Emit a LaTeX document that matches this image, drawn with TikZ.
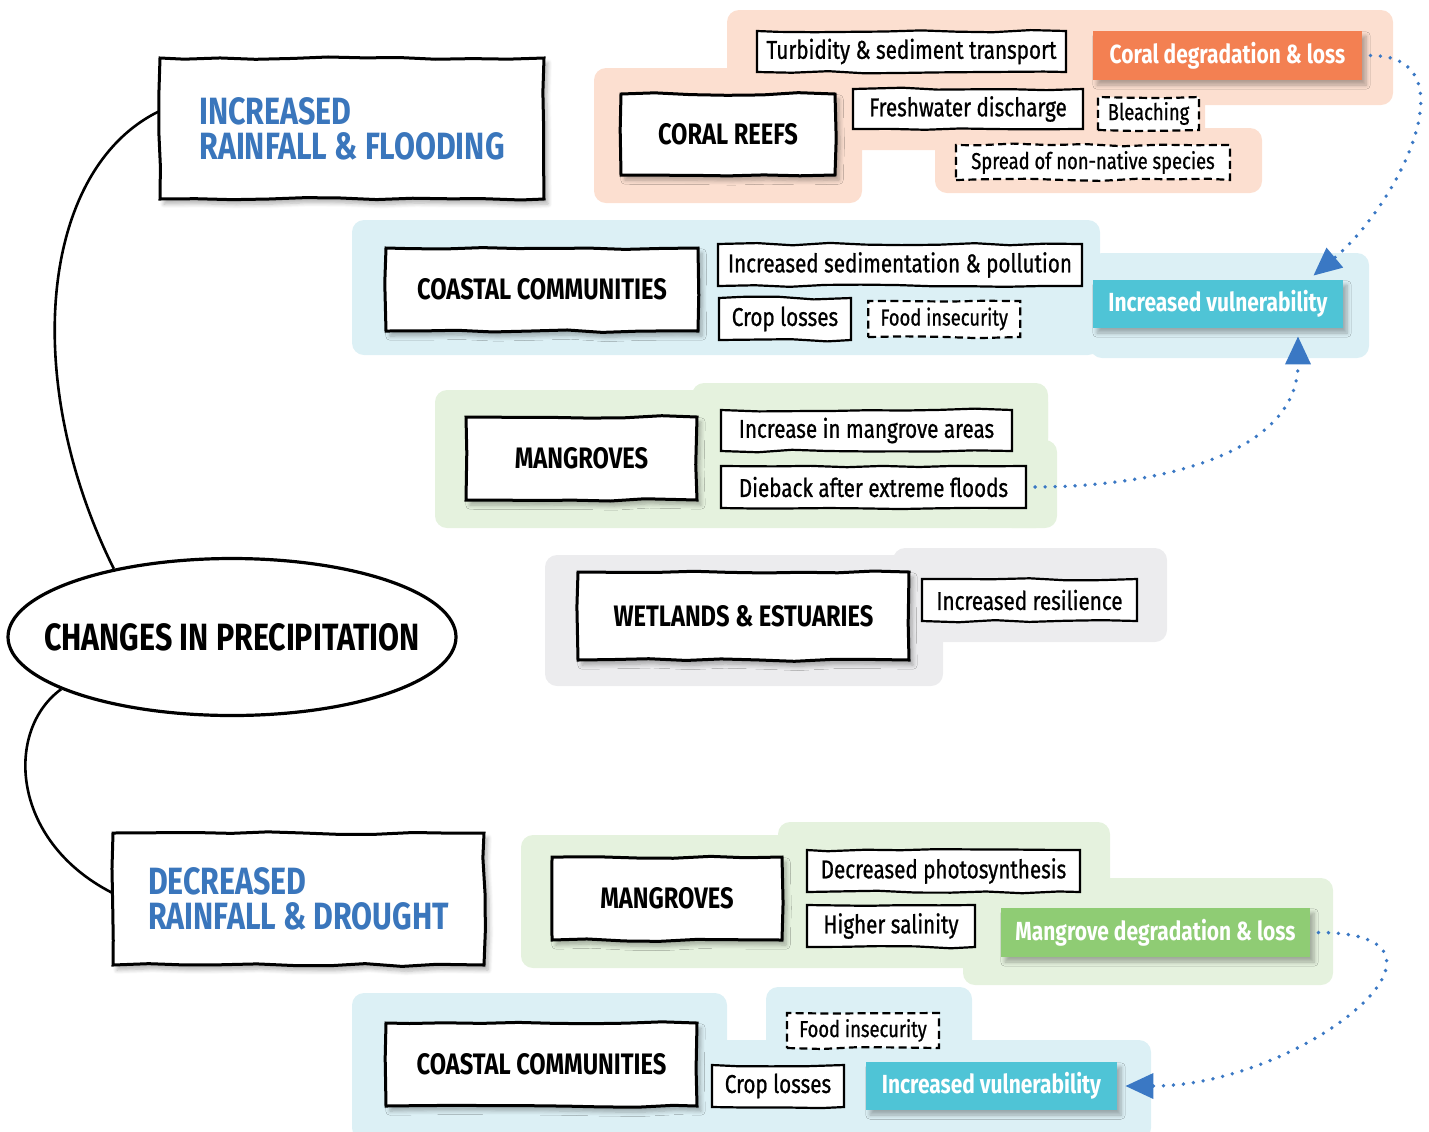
\documentclass[tikz,border=0pt]{standalone}
\usepackage{fontspec}
\setmainfont{Fira Sans}[FakeStretch=0.8]
\newfontfamily\itemfont{Fira Sans}[FakeStretch=0.8, FakeBold=0.8]
\usetikzlibrary{shapes.geometric, arrows.meta, positioning, shadows.blur, decorations.pathmorphing}
\definecolor{headblue}{RGB}{58,118,188}
\definecolor{peachbg}{RGB}{252,223,208}
\definecolor{seabg}{RGB}{220,240,245}
\definecolor{leafbg}{RGB}{229,242,222}
\definecolor{greybg}{RGB}{236,236,238}
\definecolor{coralfill}{RGB}{243,128,82}
\definecolor{tealfill}{RGB}{79,196,214}
\definecolor{mangfill}{RGB}{143,204,116}
\definecolor{arrowblue}{RGB}{58,120,196}
\tikzset{
    sketch/.style={decorate, decoration={random steps, segment length=18pt, amplitude=0.7pt}},
    softshadow/.style={blur shadow={shadow xshift=2pt, shadow yshift=-2.5pt, shadow blur steps=6, shadow opacity=30}},
    frame/.style={rectangle, draw, line width=1.5pt, fill=white, inner sep=0pt, sketch, softshadow, font=\bfseries\fontsize{14.8}{16}\selectfont},
    blueframe/.style={frame, text=headblue, align=left, font=\bfseries\fontsize{19}{17.5}\selectfont},
    item/.style={rectangle, draw, line width=1.1pt, fill=white, inner sep=0pt, sketch, font=\itemfont\fontsize{12.9}{14}\selectfont},
    dashitem/.style={item, dash pattern=on 4pt off 2.2pt, font=\itemfont\fontsize{11.5}{13}\selectfont},
    outcome/.style={rectangle, inner sep=0pt, text=white, softshadow, font=\bfseries\fontsize{13.1}{15}\selectfont},
    link/.style={line width=1.3pt},
    flow/.style={arrowblue, line width=1.9pt, line cap=round, dash pattern=on 0pt off 5pt, shorten <=4pt, -{Triangle[length=14pt, width=12.5pt]}}
}
\begin{document}
\begin{tikzpicture}[x=0.5pt, y=-0.5pt]
    \pgfmathsetseed{7}
    \useasboundingbox (0,0) rectangle (1429,1131);

    % Background panels
    \begin{scope}[rounded corners=6pt]
        \fill[peachbg] (727,10) rectangle (1393,105);
        \fill[peachbg] (594,68) rectangle (862,203);
        \fill[peachbg] (850,90) rectangle (1205,150);
        \fill[peachbg] (935,128) rectangle (1262,193);
        \fill[seabg] (352,220) rectangle (1100,355);
        \fill[seabg] (1090,253) rectangle (1369,358);
        \fill[leafbg] (435,390) rectangle (1048,528);
        \fill[leafbg] (692,383) rectangle (1048,450);
        \fill[leafbg] (1000,440) rectangle (1057,528);
        \fill[greybg] (545,555) rectangle (943,686);
        \fill[greybg] (893,548) rectangle (1167,642);
        \fill[leafbg] (521,835) rectangle (1000,968);
        \fill[leafbg] (778,822) rectangle (1110,900);
        \fill[leafbg] (963,878) rectangle (1333,985);
        \fill[seabg] (352,993) rectangle (727,1140);
        \fill[seabg] (766,987) rectangle (972,1140);
        \fill[seabg] (700,1040) rectangle (1151,1140);
    \end{scope}

    % Centre and the two branches
    \node (precip) [ellipse, draw, line width=1.6pt, fill=white, minimum width=224pt, minimum height=78.5pt,
        label={[font=\bfseries\fontsize{19}{21}\selectfont]center:CHANGES IN PRECIPITATION}] at (232,637) {};
    \node (incr) [blueframe, minimum width=192pt, minimum height=70.5pt] at (352,128.5) {INCREASED\\RAINFALL \& FLOODING};
    \node (decr) [blueframe, minimum width=185.5pt, minimum height=66pt] at (298.5,899) {DECREASED\\RAINFALL \& DROUGHT};

    % Increased rainfall: coral reefs
    \node (coral) [frame, minimum width=107pt, minimum height=40.5pt] at (728,134.5) {CORAL REEFS};
    \node (turb) [item, minimum width=154.5pt, minimum height=20.5pt] at (911.5,51.5) {Turbidity \& sediment transport};
    \node (fresh) [item, minimum width=115pt, minimum height=20pt] at (968,109) {Freshwater discharge};
    \node (bleach) [dashitem, minimum width=50.5pt, minimum height=16.5pt] at (1148.5,113.5) {Bleaching};
    \node (spread) [dashitem, minimum width=137pt, minimum height=17.5pt] at (1093,162.5) {Spread of non-native species};
    \node (coraldeg) [outcome, fill=coralfill, minimum width=134.5pt, minimum height=24.5pt] at (1227.5,55.5) {Coral degradation \& loss};

    % Increased rainfall: coastal communities
    \node (coast1) [frame, minimum width=156pt, minimum height=41.5pt] at (542,289.5) {COASTAL COMMUNITIES};
    \node (sedi) [item, minimum width=182pt, minimum height=21pt] at (900,265) {Increased sedimentation \& pollution};
    \node (crop1) [item, minimum width=66pt, minimum height=21pt] at (785,319) {Crop losses};
    \node (food1) [dashitem, right=7.5pt of crop1, minimum width=76pt, minimum height=18pt] {Food insecurity};
    \node (vuln1) [outcome, fill=tealfill, minimum width=125pt, minimum height=24pt] at (1218,304) {Increased vulnerability};

    % Increased rainfall: mangroves
    \node (mang1) [frame, minimum width=115.5pt, minimum height=41.5pt] at (581.5,458.5) {MANGROVES};
    \node (incarea) [item, minimum width=145.5pt, minimum height=20.5pt] at (866.5,430.5) {Increase in mangrove areas};
    \node (dieback) [item, minimum width=152.5pt, minimum height=21pt] at (873.5,487) {Dieback after extreme floods};

    % Increased rainfall: wetlands
    \node (wet) [frame, minimum width=165.5pt, minimum height=44pt] at (743.5,616) {WETLANDS \& ESTUARIES};
    \node (resil) [item, minimum width=107.5pt, minimum height=21pt] at (1029.5,600) {Increased resilience};

    % Decreased rainfall: mangroves
    \node (mang2) [frame, minimum width=115pt, minimum height=41.5pt] at (667,898.5) {MANGROVES};
    \node (photo) [item, minimum width=136.5pt, minimum height=21pt] at (943.5,871) {Decreased photosynthesis};
    \node (salin) [item, minimum width=84pt, minimum height=21pt] at (891,926) {Higher salinity};
    \node (mangdeg) [outcome, fill=mangfill, minimum width=154.5pt, minimum height=24.5pt] at (1155.5,932.5) {Mangrove degradation \& loss};

    % Decreased rainfall: coastal communities
    \node (coast2) [frame, minimum width=155.5pt, minimum height=41.5pt] at (541.5,1064.5) {COASTAL COMMUNITIES};
    \node (food2) [dashitem, minimum width=76pt, minimum height=17.5pt] at (863,1030.5) {Food insecurity};
    \node (crop2) [item, minimum width=66pt, minimum height=21pt] at (778,1086) {Crop losses};
    \node (vuln2) [outcome, fill=tealfill, minimum width=125.5pt, minimum height=24pt] at (991.5,1086) {Increased vulnerability};

    % Branch lines
    \draw [link] (precip.150) .. controls (20,380) and (40,170) .. (incr.175);
    \draw [link] (precip.197) .. controls (5,730) and (10,840) .. (decr.178);

    % Dotted flows
    \draw [flow] (coraldeg.east) to[out=0, in=40, looseness=1.25] ([xshift=-15pt, yshift=2pt]vuln1.north east);
    \draw [flow] (dieback.east) to[out=0, in=-90] ([xshift=40pt, yshift=-4pt]vuln1.south);
    \draw [flow] (mangdeg.east) to[out=0, in=0, looseness=1.9] ([xshift=4pt]vuln2.east);

\end{tikzpicture}
\end{document}
